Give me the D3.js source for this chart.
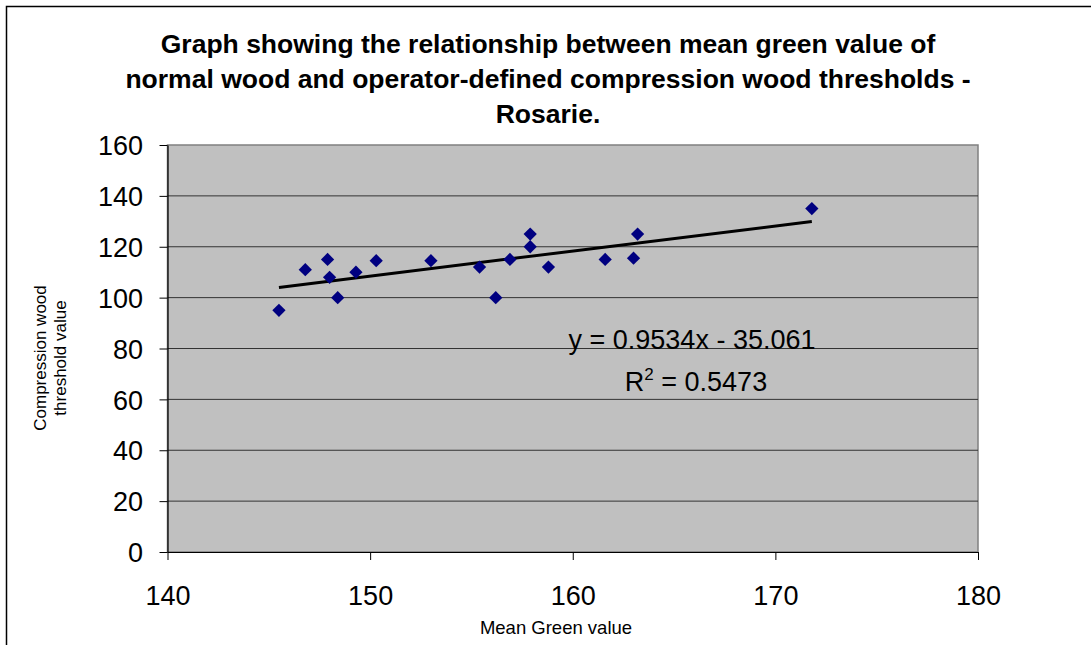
<!DOCTYPE html>
<html>
<head>
<meta charset="utf-8">
<script src="https://cdnjs.cloudflare.com/ajax/libs/d3/7.8.5/d3.min.js"></script>
<style>
  body { margin: 0; background: #fff; }
  text { font-family: "Liberation Sans", Arial, sans-serif; fill: #000; }
</style>
</head>
<body>
<script>
// values
var meanGreen = [145.5, 146.8, 147.9, 148.0, 148.4, 149.3, 150.3, 153.0, 155.4, 156.2,
                 156.9, 157.9, 157.9, 158.8, 161.6, 163.0, 163.2, 171.8];
var threshold = [95, 111, 115, 108, 100, 110, 114.5, 114.5, 112, 100,
                 115, 125, 120, 112, 115, 115.5, 125, 135];
var eqLabel = "y = 0.9534x - 35.061";
var r2Value = "0.5473";
var xTicks = [140, 150, 160, 170, 180];
var yTicks = [0, 20, 40, 60, 80, 100, 120, 140, 160];
var titleLines = ["Graph showing the relationship between mean green value of",
                  "normal wood and operator-defined compression wood thresholds -",
                  "Rosarie."];

var svgW = 1091, svgH = 645;
var plot = { left: 167.5, top: 145, right: 978, bottom: 552 };

var svg = d3.select("body").append("svg")
  .attr("width", svgW)
  .attr("height", svgH);

// outer chart border (right/bottom run off the page)
svg.append("rect")
  .attr("x", 6.5).attr("y", 6.5)
  .attr("width", svgW + 10).attr("height", svgH + 10)
  .attr("fill", "#fff")
  .attr("stroke", "#000")
  .attr("stroke-width", 1.5);

var xScale = d3.scaleLinear().domain([140, 180]).range([plot.left, plot.right]);
var yScale = d3.scaleLinear().domain([0, 160]).range([plot.bottom, plot.top]);

// plot area
svg.append("rect")
  .attr("x", plot.left).attr("y", plot.top)
  .attr("width", plot.right - plot.left).attr("height", plot.bottom - plot.top)
  .attr("fill", "#c0c0c0")
  .attr("stroke", "#808080")
  .attr("stroke-width", 1.5);

// gridlines
svg.append("g").selectAll("line")
  .data(yTicks.filter(function (d) { return d > 0 && d < 160; }))
  .enter().append("line")
  .attr("x1", plot.left).attr("x2", plot.right)
  .attr("y1", function (d) { return yScale(d); })
  .attr("y2", function (d) { return yScale(d); })
  .attr("stroke", "#333")
  .attr("stroke-width", 1);

// axes
var yAxis = svg.append("g")
  .attr("transform", "translate(" + plot.left + ",0)")
  .call(d3.axisLeft(yScale).tickValues(yTicks).tickSize(8).tickSizeOuter(0));
yAxis.selectAll("text")
  .attr("x", -24.5)
  .attr("dy", "0.36em")
  .style("font-size", "27px");

var xAxis = svg.append("g")
  .attr("transform", "translate(0," + plot.bottom + ")")
  .call(d3.axisBottom(xScale).tickValues(xTicks).tickSize(8).tickSizeOuter(0));
xAxis.selectAll("text")
  .attr("y", 53)
  .attr("dy", 0)
  .style("font-size", "27px");

svg.selectAll(".domain").attr("stroke", "#000").attr("stroke-width", 1.2);
svg.selectAll(".tick line").attr("stroke", "#000");
svg.selectAll(".tick text").style("font-family", "'Liberation Sans', Arial, sans-serif").attr("fill", "#000");

// least-squares trendline over the data range
var mx = d3.mean(meanGreen), my = d3.mean(threshold);
var sxy = d3.sum(meanGreen, function (d, i) { return (d - mx) * (threshold[i] - my); });
var sxx = d3.sum(meanGreen, function (d) { return (d - mx) * (d - mx); });
var slope = sxy / sxx, icpt = my - slope * mx;
var xr = d3.extent(meanGreen);
svg.append("line")
  .attr("x1", xScale(xr[0])).attr("y1", yScale(slope * xr[0] + icpt))
  .attr("x2", xScale(xr[1])).attr("y2", yScale(slope * xr[1] + icpt))
  .attr("stroke", "#000")
  .attr("stroke-width", 3);

// points
var diamond = d3.symbol().type(d3.symbolSquare).size(88);
svg.append("g").selectAll("path")
  .data(meanGreen)
  .enter().append("path")
  .attr("d", diamond)
  .attr("transform", function (d, i) {
    return "translate(" + xScale(d) + "," + yScale(threshold[i]) + ") rotate(45)";
  })
  .attr("fill", "#000080");

// equation labels
svg.append("text")
  .attr("x", 692).attr("y", 349)
  .attr("text-anchor", "middle")
  .style("font-size", "27px")
  .text(eqLabel);
var r2 = svg.append("text")
  .attr("x", 696).attr("y", 391)
  .attr("text-anchor", "middle")
  .style("font-size", "27px");
r2.append("tspan").text("R");
r2.append("tspan").attr("dy", -11).style("font-size", "17px").text("2");
r2.append("tspan").attr("dy", 11).text(" = " + r2Value);

// title
titleLines.forEach(function (t, i) {
  svg.append("text")
    .attr("x", 548).attr("y", 53 + i * 35)
    .attr("text-anchor", "middle")
    .style("font-size", "26.5px")
    .style("font-weight", "bold")
    .text(t);
});

// axis titles
svg.append("text")
  .attr("x", 556).attr("y", 634)
  .attr("text-anchor", "middle")
  .style("font-size", "18.5px")
  .text("Mean Green value");

var yt = svg.append("text")
  .attr("transform", "translate(46,358) rotate(-90)")
  .attr("text-anchor", "middle")
  .style("font-size", "17px");
yt.append("tspan").attr("x", 0).text("Compression wood");
yt.append("tspan").attr("x", 0).attr("dy", 20).text("threshold value");
</script>
</body>
</html>
